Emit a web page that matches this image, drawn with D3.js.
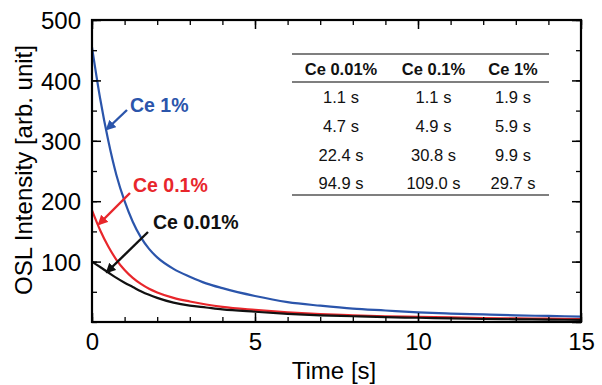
<!DOCTYPE html>
<html>
<head>
<meta charset="utf-8">
<script src="https://cdn.jsdelivr.net/npm/d3@7/dist/d3.min.js"></script>
<style>
  html, body { margin: 0; padding: 0; background: #fff; }
  svg { display: block; font-family: "Liberation Sans", Arial, Helvetica, sans-serif; }
</style>
</head>
<body>
<svg id="chart" width="602" height="385"></svg>
<script>
// ---- data ----
const times = [0, 0.25, 0.5, 0.75, 1, 1.25, 1.5, 1.75, 2, 2.5, 3, 3.5, 4, 5, 6, 7, 8, 9, 10, 11, 12, 13, 14, 15];
const ce1    = [455, 370, 300, 243, 200, 166, 140, 121, 107, 88, 75, 64, 56, 43, 33, 27, 22, 19, 16, 14, 12.5, 11, 10, 9];
const ce01   = [185, 152, 125, 103, 86, 73, 63, 55, 49, 40, 34, 29, 25, 20, 16, 13, 11, 9.5, 8.5, 7.5, 6.5, 6, 5.5, 5];
const ce001  = [100, 91, 82, 73, 65, 58, 51, 45, 40, 32, 27, 24, 21, 17, 13.5, 11, 9.5, 8, 7, 6, 5, 4.5, 4, 3.5];
const seriesNames = ["Ce 0.01%", "Ce 0.1%", "Ce 1%"];
const seriesColors = ["#111111", "#e8262b", "#2b55ab"];
const xTicks = [0, 5, 10, 15];
const yTicks = [0, 100, 200, 300, 400, 500];
const tableHeader = ["Ce 0.01%", "Ce 0.1%", "Ce 1%"];
const tableRows = [
  ["1.1 s", "1.1 s", "1.9 s"],
  ["4.7 s", "4.9 s", "5.9 s"],
  ["22.4 s", "30.8 s", "9.9 s"],
  ["94.9 s", "109.0 s", "29.7 s"]
];

const svg = d3.select("#chart");
const L = 92, R = 581, T = 20, B = 322;
const x = d3.scaleLinear().domain([0, 15]).range([L, R]);
const y = d3.scaleLinear().domain([0, 500]).range([B, T]);

// curves
const series = [ce001, ce01, ce1];
const line = d3.line().x((d, i) => x(times[i])).y(d => y(d)).curve(d3.curveMonotoneX);
svg.append("clipPath").attr("id", "clip").append("rect")
  .attr("x", L).attr("y", T).attr("width", R - L).attr("height", B - T);
const gCurves = svg.append("g").attr("clip-path", "url(#clip)");
[1, 0, 2].forEach(k => {
  gCurves.append("path").datum(series[k]).attr("d", line)
    .attr("fill", "none").attr("stroke", seriesColors[k]).attr("stroke-width", 2.2);
});

// axes (ticks inward)
const minorX = d3.range(0, 15.01, 1);
const minorY = d3.range(0, 500.1, 50);
function addAxis(axisFn, scale, tr, major, minor, labels) {
  svg.append("g").attr("transform", tr)
    .call(axisFn(scale).tickValues(minor).tickSize(-5).tickFormat(""))
    .call(g => g.select(".domain").remove())
    .call(g => g.selectAll("line").attr("stroke", "#000").attr("stroke-width", 1.3));
  const g = svg.append("g").attr("transform", tr)
    .call(axisFn(scale).tickValues(major).tickSize(-9).tickFormat(labels ? d3.format("d") : ""));
  g.select(".domain").remove();
  g.selectAll("line").attr("stroke", "#000").attr("stroke-width", 1.5);
  g.selectAll("text").attr("font-size", 24).attr("fill", "#000")
    .attr("font-family", "'Liberation Sans', Arial, sans-serif");
  return g;
}
const gx = addAxis(d3.axisBottom, x, `translate(0,${B})`, xTicks, minorX, true);
gx.selectAll("text").attr("dy", null).attr("y", 28);
addAxis(d3.axisTop, x, `translate(0,${T})`, xTicks, minorX, false);
const gy = addAxis(d3.axisLeft, y, `translate(${L},0)`, yTicks.filter(v => v > 0), minorY, true);
gy.selectAll("text").attr("x", -11).attr("dy", "0.36em");
addAxis(d3.axisRight, y, `translate(${R},0)`, yTicks, minorY, false);

// frame
svg.append("rect").attr("x", L).attr("y", T).attr("width", R - L).attr("height", B - T)
  .attr("fill", "none").attr("stroke", "#000").attr("stroke-width", 2.2);

// axis titles
svg.append("text").attr("x", 334).attr("y", 379).attr("text-anchor", "middle")
  .attr("font-size", 24).text("Time [s]");
svg.append("text").attr("transform", "translate(32,170) rotate(-90)").attr("text-anchor", "middle")
  .attr("font-size", 24).text("OSL Intensity [arb. unit]");

// annotations with arrows
const defs = svg.append("defs");
seriesColors.forEach((c, i) => {
  defs.append("marker").attr("id", "ah" + i).attr("viewBox", "0 0 10 10")
    .attr("refX", 8).attr("refY", 5).attr("markerWidth", 4.2).attr("markerHeight", 4.2)
    .attr("markerUnits", "strokeWidth").attr("orient", "auto")
    .append("path").attr("d", "M0,0 L10,5 L0,10 Z").attr("fill", c);
});
const annos = [
  { k: 2, tx: 130, ty: 112, x1: 127, y1: 110, x2: 107, y2: 129 },
  { k: 1, tx: 133, ty: 192, x1: 130, y1: 193, x2: 99, y2: 224 },
  { k: 0, tx: 153, ty: 229, x1: 148, y1: 232, x2: 107, y2: 272 }
];
annos.forEach(a => {
  svg.append("line").attr("x1", a.x1).attr("y1", a.y1).attr("x2", a.x2).attr("y2", a.y2)
    .attr("stroke", seriesColors[a.k]).attr("stroke-width", 2.4)
    .attr("marker-end", `url(#ah${a.k})`);
  svg.append("text").attr("x", a.tx).attr("y", a.ty).attr("font-size", 19.5).attr("font-weight", "bold")
    .attr("fill", seriesColors[a.k]).text(seriesNames[a.k]);
});

// table
const tL = 292, tR = 549;
const colX = [341, 433.5, 513];
const tg = svg.append("g").attr("font-size", 16.5).attr("fill", "#111");
[54, 82, 195].forEach(yy => {
  tg.append("line").attr("x1", tL).attr("x2", tR).attr("y1", yy).attr("y2", yy)
    .attr("stroke", "#555").attr("stroke-width", 1.5);
});
tableHeader.forEach((h, j) => {
  tg.append("text").attr("x", colX[j]).attr("y", 69).attr("dy", "0.36em").attr("text-anchor", "middle")
    .attr("font-weight", "bold").text(h);
});
const rowY = [97.5, 126, 155, 183];
tableRows.forEach((r, i) => r.forEach((v, j) => {
  tg.append("text").attr("x", colX[j]).attr("y", rowY[i]).attr("dy", "0.36em").attr("text-anchor", "middle").text(v);
}));
</script>
</body>
</html>
